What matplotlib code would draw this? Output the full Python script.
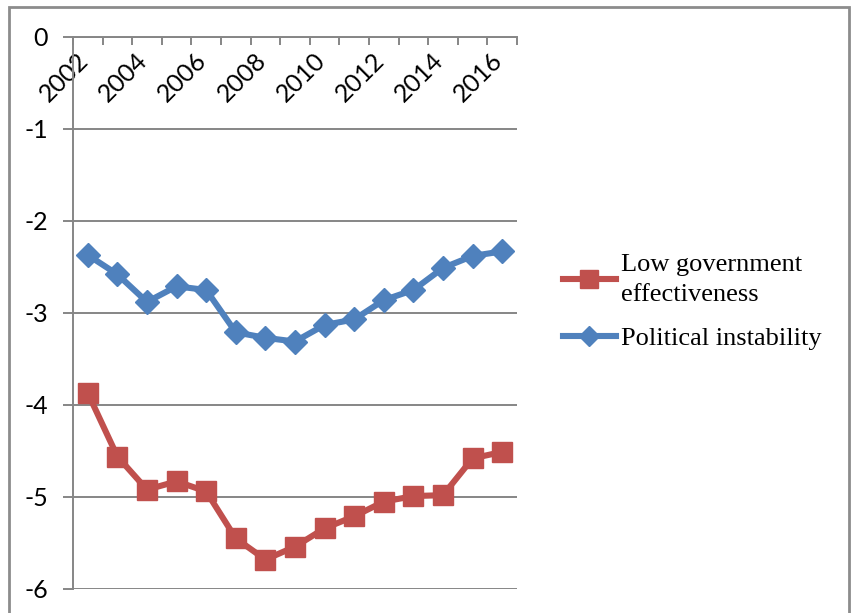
import matplotlib
matplotlib.use("Agg")
import matplotlib.pyplot as plt
from matplotlib.patches import Rectangle
from matplotlib.transforms import ScaledTranslation
import numpy as np

plt.rcParams["axes.unicode_minus"] = False

years = list(range(2002, 2017))
low_gov_effectiveness = [-3.87, -4.56, -4.92, -4.83, -4.94, -5.45, -5.68, -5.54,
                         -5.34, -5.21, -5.05, -4.99, -4.98, -4.58, -4.51]
political_instability = [-2.37, -2.58, -2.88, -2.71, -2.75, -3.21, -3.27, -3.31,
                         -3.13, -3.07, -2.86, -2.75, -2.51, -2.38, -2.33]
y_ticks = [0, -1, -2, -3, -4, -5, -6]

RED = "#C0504D"
BLUE = "#4F81BD"
GRID = "#868686"

fig = plt.figure(figsize=(8.53, 6.13), dpi=100)
fig.patch.set_facecolor("white")

# outer chart frame (bottom edge falls outside the canvas)
fig.patches.append(Rectangle((9 / 853, -0.05), (849 - 9) / 853, 1.05 - 7 / 613,
                             transform=fig.transFigure, fill=False,
                             edgecolor="#8C8C8C", linewidth=2.0, zorder=0))

ax = fig.add_axes([73 / 853, 1 - 589 / 613, (517 - 73) / 853, (589 - 37) / 613])

x = np.arange(len(years))
ax.plot(x, low_gov_effectiveness, color=RED, lw=4.4, marker="s", ms=14.5,
        label="Low government\neffectiveness", zorder=3)
ax.plot(x, political_instability, color=BLUE, lw=4.4, marker="D", ms=12,
        label="Political instability", zorder=3)

ax.set_xlim(-0.5, len(years) - 0.5)
ax.set_ylim(-6, 0)

# horizontal gridlines
ax.set_yticks(y_ticks)
ax.yaxis.grid(True, color=GRID, lw=1.4)
ax.set_axisbelow(True)
ax.tick_params(axis="y", length=7, width=1.4, color=GRID, labelsize=18, pad=11)
for lbl in ax.get_yticklabels():
    lbl.set_fontfamily("Lato")

# category axis drawn along y = 0 at the top
for side in ("right", "bottom"):
    ax.spines[side].set_visible(False)
ax.spines["top"].set_color(GRID)
ax.spines["top"].set_linewidth(1.4)
ax.spines["left"].set_color(GRID)
ax.spines["left"].set_linewidth(1.4)

ax.xaxis.tick_top()
ax.set_xticks(np.arange(-0.5, len(years), 1.0))
ax.set_xticklabels([])
ax.tick_params(axis="x", which="major", direction="in", length=6, width=1.4,
               color=GRID, top=True, bottom=False)
label_pos = x[::2]
ax.set_xticks(label_pos, minor=True)
ax.set_xticklabels([str(years[i]) for i in label_pos], minor=True,
                   rotation=45, ha="right", va="top", fontsize=18,
                   fontfamily="Lato")
ax.tick_params(axis="x", which="minor", length=0, top=True, bottom=False,
               labeltop=True, labelbottom=False, pad=-8)
shift = ScaledTranslation(5 / 100, 0, fig.dpi_scale_trans)
for lbl in ax.get_xticklabels(minor=True):
    lbl.set_transform(lbl.get_transform() + shift)

leg = fig.legend(loc="center left", bbox_to_anchor=(539 / 853, 1 - 302 / 613),
                 frameon=False, prop={"family": "Liberation Serif", "size": 19},
                 handlelength=2.0, handletextpad=0.2, labelspacing=0.8,
                 markerscale=0.85)
leg.get_texts()[0].set_linespacing(1.45)

fig.savefig("out.png", dpi=100)
